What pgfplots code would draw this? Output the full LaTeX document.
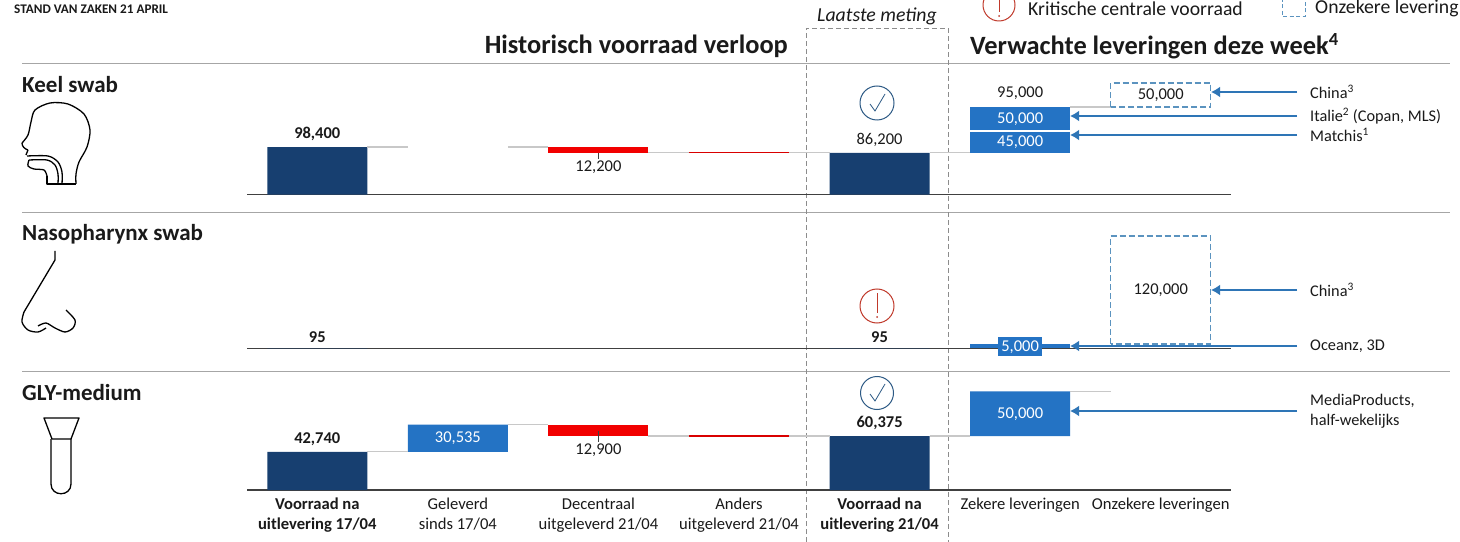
\documentclass[border=0pt]{standalone}
\usepackage{pgfplots}
\usepackage{pgfplotstable}
\usepackage{fontspec}
\setmainfont{Carlito}
\pgfplotsset{compat=1.18}
\usetikzlibrary{arrows.meta}
\definecolor{navy}{HTML}{173F70}
\definecolor{midblue}{HTML}{2473C4}
\definecolor{arrowblue}{HTML}{2E75B6}
\definecolor{dashblue}{HTML}{5B93BF}
\definecolor{conn}{HTML}{C8C8C8}
\definecolor{sep}{HTML}{A6A6A6}
\definecolor{base}{HTML}{404040}
\definecolor{txt}{HTML}{1A1A1A}
\definecolor{alert}{HTML}{C0392B}
\definecolor{okc}{HTML}{2D5A85}
\newcommand\fs[2]{\fontsize{#1bp}{#2bp}\selectfont}
% x base donker blauw blauwb rood
\pgfplotstableread{
x base donker blauw blauwb rood
0 0     98400 0     0     0
1 98400 0     0     0     0
2 86200 0     0     0     12200
3 86200 0     0     0     0
4 0     86200 0     0     0
5 86200 0     45000 50000 0
6 0     0     0     0     0
}\keel
\pgfplotstableread{
x base donker blauw blauwb rood
0 0   95 0    0 0
1 95  0  0    0 0
2 95  0  0    0 0
3 95  0  0    0 0
4 0   95 0    0 0
5 95  0  5000 0 0
6 0   0  0    0 0
}\naso
\pgfplotstableread{
x base donker blauw blauwb rood
0 0     42740 0     0 0
1 42740 0     30535 0 0
2 60375 0     0     0 12900
3 60375 0     0     0 0
4 0     60375 0     0 0
5 60375 0     50000 0 0
6 0     0     0     0 0
}\gly
\pgfplotsset{
  panel/.style={scale only axis,width=984bp,xmin=-0.5,xmax=6.5,ymin=0,
    enlarge x limits=false,enlarge y limits=false,clip=false,
    axis y line=none,axis x line*=bottom,x axis line style={base,line width=1.5bp,-},
    xtick=\empty,ytick=\empty,major tick length=0pt},
  over/.style={scale only axis,width=984bp,xmin=-0.5,xmax=6.5,ymin=0,
    enlarge x limits=false,enlarge y limits=false,clip=false,hide axis},
  bars/.style={ybar stacked,bar width=100bp},
  conline/.style={conn,line width=1.2bp,forget plot},
  thinred/.style={red!85!black,line width=1.2bp,forget plot},
  dashbox/.style={dashblue,line width=1.3bp,dash pattern=on 6bp off 3bp,forget plot},
}
\begin{document}
\begin{tikzpicture}[x=1bp,y=-1bp,
  val/.style={inner sep=0pt,text=txt,font=\fs{16.5}{19}},
  bval/.style={inner sep=0pt,text=txt,font=\fs{16.5}{19}\bfseries},
  wval/.style={inner sep=0pt,text=white,font=\fs{16.5}{19}},
  src/.style={inner sep=0pt,anchor=west,text=txt,font=\fs{16.3}{20},align=left},
  arr/.style={arrowblue,line width=2.2bp,-{Latex[length=9bp,width=11bp]}},
  icon/.style={black,line width=1.3bp,line join=round}]
\path[use as bounding box,fill=white] (0,0) rectangle (1460,542);
% separators
\foreach \yy in {64,213,371} \draw[sep,line width=1bp] (22,\yy)--(1450,\yy);
% latest measurement frame
\draw[black!45,line width=0.9bp,dash pattern=on 5bp off 3bp] (806,542)--(806,28)--(948,28)--(948,542);
% headings
\node[inner sep=0pt,anchor=west,text=txt,font=\fs{13.2}{15}\bfseries] at (14,9) {STAND VAN ZAKEN 21 APRIL};
\node[inner sep=0pt,text=txt,font=\fs{19.8}{22}\itshape] at (877,16) {Laatste meting};
\node[inner sep=0pt,anchor=west,text=txt,font=\fs{19.7}{22}] at (1028,8.5) {Kritische centrale voorraad};
\node[inner sep=0pt,anchor=west,text=txt,font=\fs{19.7}{22}] at (1315,8.5) {Onzekere levering};
\draw[alert,line width=1bp] (999,5) circle (16);
\draw[alert,line width=1bp] (999,-2)--(999,12);
\fill[alert] (999,16) circle (1);
\draw[dashblue,line width=1bp,dash pattern=on 4bp off 2.5bp] (1282,-2)--(1282,16.5)--(1305,16.5)--(1305,-2);
\node[inner sep=0pt,anchor=east,text=txt,font=\fs{26.4}{30}\bfseries] at (788,46) {Historisch voorraad verloop};
\node[inner sep=0pt,anchor=west,text=txt,font=\fs{26.4}{30}\bfseries] at (970,46) {Verwachte leveringen deze week\textsuperscript{4}};
\node[inner sep=0pt,anchor=west,text=txt,font=\fs{23}{26}\bfseries] at (22,85) {Keel swab};
\node[inner sep=0pt,anchor=west,text=txt,font=\fs{23}{26}\bfseries] at (22,234) {Nasopharynx swab};
\node[inner sep=0pt,anchor=west,text=txt,font=\fs{23}{26}\bfseries] at (22,392.5) {GLY-medium};
% icons
\draw[icon] plot[smooth] coordinates {(22,143)(28,135)(31,122)(35,110)(50,103)(68,104)(84,114)(90,130)(87,147)(79,162)(76,174)(76,184)};
\draw[icon] (22,143) to[out=-90,in=160] (28,150) (28,150)--(26,155);
\draw[icon] plot[smooth] coordinates {(27,156)(48,156)(58,162)(62,172)(62,184)};
\draw[icon] plot[smooth] coordinates {(29,160)(47,160)(55,165)(58,174)(58,184)};
\draw[icon] plot[smooth] coordinates {(29,160)(28,166)(34,169)(44,170)(47,176)};
\draw[icon] (47,176)--(47,184)--(76,184);
\draw[icon] (55,251)--(55,260)--(24,312);
\draw[icon] plot[smooth] coordinates {(24,312)(22,322)(28,330)(38,332)(46,328)};
\draw[icon] plot[smooth] coordinates {(38,326)(46,323)(55,328)(65,332)(73,328)(75,320)(66,310)};
\draw[icon] (44,418)--(79,418)--(71,439)--(52,439)--cycle;
\draw[icon] (51,439)--(51,484) .. controls (51,497) and (71,497) .. (71,484)--(71,439);
% ===== Keel swab =====
\begin{axis}[panel,bars,name=k,height=130bp,ymax=269325,at={(247bp,-194.5bp)},anchor=south west]
\addplot[draw=none,fill=none] table[x=x,y=base]{\keel};
\addplot[draw=none,fill=navy] table[x=x,y=donker]{\keel};
\addplot[draw=none,fill=midblue] table[x=x,y=blauw]{\keel};
\addplot[draw=none,fill=midblue] table[x=x,y=blauwb]{\keel};
\addplot[draw=none,fill=red!95!black] table[x=x,y=rood]{\keel};
\end{axis}
\begin{axis}[over,height=130bp,ymax=269325,at={(247bp,-194.5bp)},anchor=south west]
\addplot[conline] coordinates {(0.356,98400)(0.644,98400)};
\addplot[conline] coordinates {(1.356,98400)(1.644,98400)};
\addplot[conline] coordinates {(2.356,86200)(2.644,86200)};
\addplot[conline] coordinates {(3.356,86200)(3.644,86200)};
\addplot[conline] coordinates {(4.356,86200)(4.644,86200)};
\addplot[conline] coordinates {(5.356,181200)(5.644,181200)};
\addplot[thinred] coordinates {(2.644,86200)(3.356,86200)};
\addplot[white,line width=1.5bp,forget plot] coordinates {(4.644,131200)(5.356,131200)};
\addplot[dashbox] coordinates {(5.644,181200)(5.644,231200)(6.356,231200)(6.356,181200)(5.644,181200)};
\addplot[base,line width=0.8bp,forget plot] coordinates {(2,86200)(2,74000)};
\node[bval] at (axis cs:0,98400) [above=6bp] {98,400};
\node[val] at (axis cs:2,74000) [below=2bp] {12,200};
\node[val] at (axis cs:4,86200) [above=6bp] {86,200};
\node[val] at (axis cs:5,181200) [above=7bp] {95,000};
\node[wval] at (axis cs:5,156200) {50,000};
\node[wval] at (axis cs:5,108700) {45,000};
\node[val] at (axis cs:6,206200) {50,000};
\end{axis}
\draw[okc,line width=1bp] (877,103) circle (17);
\draw[okc,line width=0.8bp] (870,104)--(875,111)--(885,94);
\draw[arr] (1297,92)--(1211,92);
\draw[arr] (1297,116)--(1070,116);
\draw[arr] (1297,135)--(1070,135);
\node[src] at (1310,92) {China\textsuperscript{3}};
\node[src] at (1310,116) {Italie\textsuperscript{2} (Copan, MLS)};
\node[src] at (1310,135) {Matchis\textsuperscript{1}};
% ===== Nasopharynx swab =====
\begin{axis}[panel,bars,height=130bp,ymax=144444,at={(247bp,-348.5bp)},anchor=south west]
\addplot[draw=none,fill=none] table[x=x,y=base]{\naso};
\addplot[draw=none,fill=navy] table[x=x,y=donker]{\naso};
\addplot[draw=none,fill=midblue] table[x=x,y=blauw]{\naso};
\addplot[draw=none,fill=midblue] table[x=x,y=blauwb]{\naso};
\addplot[draw=none,fill=red!95!black] table[x=x,y=rood]{\naso};
\end{axis}
\begin{axis}[over,height=130bp,ymax=144444,at={(247bp,-348.5bp)},anchor=south west]
\addplot[dashbox] coordinates {(5.644,5095)(5.644,125095)(6.356,125095)(6.356,5095)(5.644,5095)};
\node[bval] at (axis cs:0,95) [above=6bp] {95};
\node[bval] at (axis cs:4,95) [above=6bp] {95};
\node[val] at (axis cs:6,65095) {120,000};
\node[wval,fill=midblue,inner xsep=3bp,inner ysep=3bp] at (axis cs:5,2000) {5,000};
\end{axis}
\draw[alert,line width=1bp] (877,306) circle (17);
\draw[alert,line width=0.8bp] (877,293)--(877,313);
\fill[alert] (877,317) circle (1);
\draw[arr] (1297,290)--(1211,290);
\draw[arr] (1297,346)--(1070,346);
\node[src] at (1310,290) {China\textsuperscript{3}};
\node[src] at (1310,346) {Oceanz, 3D};
% ===== GLY-medium =====
\begin{axis}[panel,bars,height=120bp,ymax=134378,at={(247bp,-490bp)},anchor=south west,
  xtick={0,1,2,3,4,5,6},
  xticklabels={{{\bfseries Voorraad na}\\{\bfseries uitlevering 17/04}},{Geleverd\\sinds 17/04},{Decentraal\\uitgeleverd 21/04},{Anders\\uitgeleverd 21/04},{{\bfseries Voorraad na}\\{\bfseries uitlevering 21/04}},{Zekere leveringen},{Onzekere leveringen}},
  xticklabel style={align=center,anchor=north,inner sep=0pt,yshift=-8bp,text=txt,font=\fs{16.6}{20}}]
\addplot[draw=none,fill=none] table[x=x,y=base]{\gly};
\addplot[draw=none,fill=navy] table[x=x,y=donker]{\gly};
\addplot[draw=none,fill=midblue] table[x=x,y=blauw]{\gly};
\addplot[draw=none,fill=midblue] table[x=x,y=blauwb]{\gly};
\addplot[draw=none,fill=red!95!black] table[x=x,y=rood]{\gly};
\end{axis}
\begin{axis}[over,height=120bp,ymax=134378,at={(247bp,-490bp)},anchor=south west]
\addplot[conline] coordinates {(0.356,42740)(0.644,42740)};
\addplot[conline] coordinates {(1.356,73275)(1.644,73275)};
\addplot[conline] coordinates {(2.356,60375)(2.644,60375)};
\addplot[conline] coordinates {(3.356,60375)(3.644,60375)};
\addplot[conline] coordinates {(4.356,60375)(4.644,60375)};
\addplot[conline] coordinates {(5.356,110375)(5.644,110375)};
\addplot[thinred] coordinates {(2.644,60375)(3.356,60375)};
\addplot[base,line width=0.8bp,forget plot] coordinates {(2,66000)(2,54000)};
\node[bval] at (axis cs:0,42740) [above=6bp] {42,740};
\node[wval] at (axis cs:1,58007) {30,535};
\node[val] at (axis cs:2,54000) [below=2bp] {12,900};
\node[bval] at (axis cs:4,60375) [above=6bp] {60,375};
\node[wval] at (axis cs:5,85375) {50,000};
\end{axis}
\draw[okc,line width=1bp] (877,393) circle (16.5);
\draw[okc,line width=0.8bp] (870,394)--(875,401)--(885,384);
\draw[arr] (1297,411)--(1070,411);
\node[src] at (1310,411) {MediaProducts,\\half-wekelijks};
\end{tikzpicture}
\end{document}
